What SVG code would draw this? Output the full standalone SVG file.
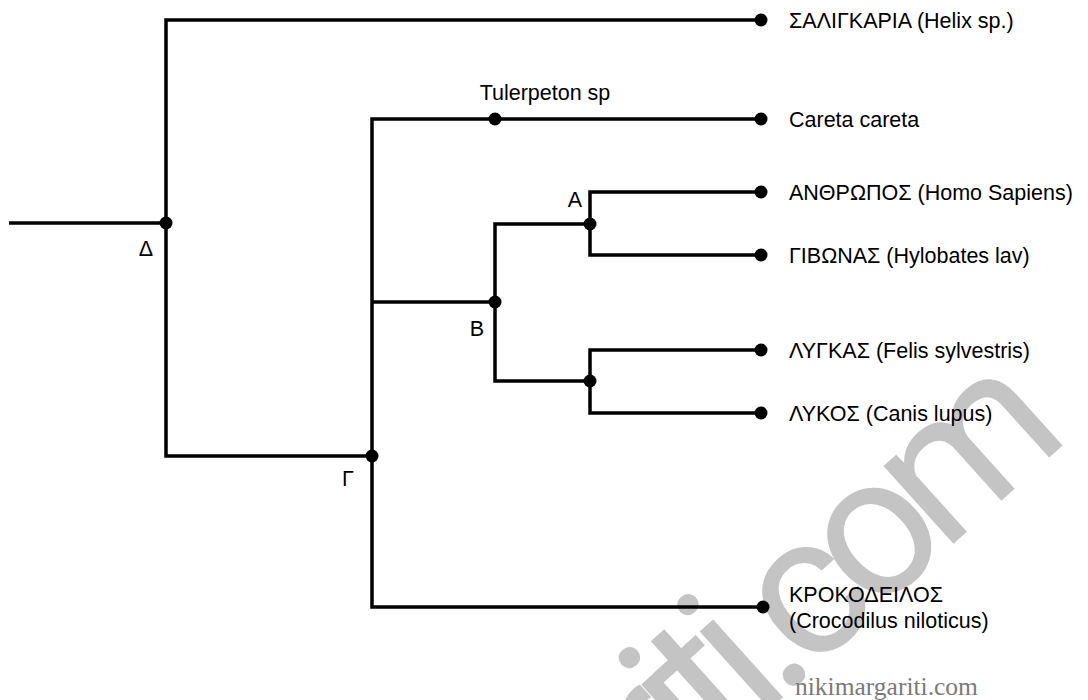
<svg xmlns="http://www.w3.org/2000/svg" width="1088" height="700" viewBox="0 0 1088 700">
  <style>
    .edge { fill: none; stroke: #000; stroke-width: 3.5; stroke-linecap: butt; stroke-linejoin: miter; }
    .dot { fill: #000; }
    .lbl { font-family: "Liberation Sans", Arial, sans-serif; font-size: 21.5px; fill: #000; }
    .wm { font-family: Roboto, "Liberation Sans", sans-serif; font-weight: 400; font-size: 198px; letter-spacing: -17px; fill: #c4c4c4; }
    .site { font-family: "Liberation Serif", "Times New Roman", serif; font-size: 25.5px; fill: #7a7a7a; }
  </style>
  <rect width="1088" height="700" fill="#fff"/>
  <g id="watermark">
    <text class="wm" x="1060" y="448" text-anchor="end" transform="rotate(-42 1060 448)">nikimargariti.com</text>
  </g>
  <g id="connectors">
    <path class="edge" d="M9 223 H166"/>
    <path class="edge" d="M761 20 H166 V456 H372"/>
    <path class="edge" d="M761 119 H372 V607 H763"/>
    <path class="edge" d="M372 302 H495"/>
    <path class="edge" d="M590 224 H495 V381 H590"/>
    <path class="edge" d="M761 192 H590 V255 H761"/>
    <path class="edge" d="M761 350 H590 V413 H761"/>
  </g>
  <g id="node-delta">
    <circle class="dot" cx="166" cy="223" r="6.5"/>
    <text class="lbl" x="146" y="256" text-anchor="middle">Δ</text>
  </g>
  <g id="node-gamma">
    <circle class="dot" cx="372" cy="456" r="6.5"/>
    <text class="lbl" x="348" y="486" text-anchor="middle">Γ</text>
  </g>
  <g id="node-beta">
    <circle class="dot" cx="495" cy="302" r="6.5"/>
    <text class="lbl" x="477" y="336" text-anchor="middle">Β</text>
  </g>
  <g id="node-alpha">
    <circle class="dot" cx="590" cy="224" r="6.5"/>
    <text class="lbl" x="575" y="207" text-anchor="middle">Α</text>
  </g>
  <g id="node-felid-canid">
    <circle class="dot" cx="590" cy="381" r="6.5"/>
  </g>
  <g id="node-tulerpeton">
    <circle class="dot" cx="495" cy="119" r="6.5"/>
    <text class="lbl" x="545" y="100" text-anchor="middle">Tulerpeton sp</text>
  </g>
  <g id="leaf-helix">
    <circle class="dot" cx="761" cy="20" r="6.5"/>
    <text class="lbl" x="789" y="28">ΣΑΛΙΓΚΑΡΙΑ (Helix sp.)</text>
  </g>
  <g id="leaf-careta">
    <circle class="dot" cx="761" cy="119" r="6.5"/>
    <text class="lbl" x="789" y="127">Careta careta</text>
  </g>
  <g id="leaf-homo">
    <circle class="dot" cx="761" cy="192" r="6.5"/>
    <text class="lbl" x="789" y="200">ΑΝΘΡΩΠΟΣ (Homo Sapiens)</text>
  </g>
  <g id="leaf-hylobates">
    <circle class="dot" cx="761" cy="255" r="6.5"/>
    <text class="lbl" x="789" y="263">ΓΙΒΩΝΑΣ (Hylobates lav)</text>
  </g>
  <g id="leaf-felis">
    <circle class="dot" cx="761" cy="350" r="6.5"/>
    <text class="lbl" x="789" y="358">ΛΥΓΚΑΣ (Felis sylvestris)</text>
  </g>
  <g id="leaf-canis">
    <circle class="dot" cx="761" cy="413" r="6.5"/>
    <text class="lbl" x="789" y="421">ΛΥΚΟΣ (Canis lupus)</text>
  </g>
  <g id="leaf-crocodilus">
    <circle class="dot" cx="763" cy="607" r="6.5"/>
    <text class="lbl" x="789" y="602">ΚΡΟΚΟΔΕΙΛΟΣ</text>
    <text class="lbl" x="789" y="628">(Crocodilus niloticus)</text>
  </g>
  <text class="site" x="795" y="695">nikimargariti.com</text>
</svg>
